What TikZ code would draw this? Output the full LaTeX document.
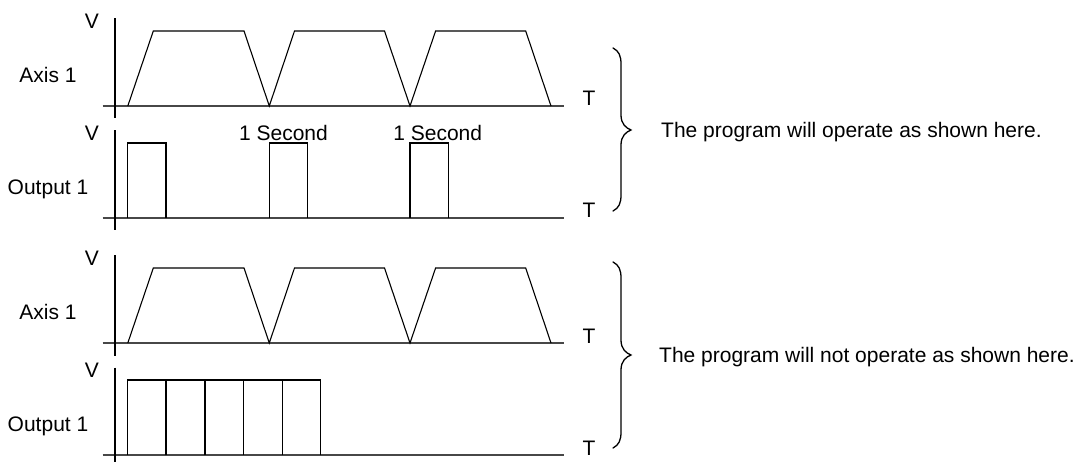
\documentclass[tikz,border=0pt]{standalone}
\usepackage{fontspec}
\setmainfont{Liberation Sans}
\begin{document}
\begin{tikzpicture}[x=1pt,y=-1pt,
  wave/.style={black, line width=1.1pt, line join=miter},
  haxis/.style={black!72, line width=1.6pt},
  vaxis/.style={black, line width=1.2pt},
  lbl/.style={inner sep=0pt, font=\fontsize{21}{25}\selectfont, anchor=base},
  note/.style={inner sep=0pt, font=\fontsize{21}{25}\selectfont, anchor=base west},
  bracepath/.style={black, line width=1.3pt, line cap=round}]
\useasboundingbox (0,0) rectangle (1084,462);

% ---------- axes and labels for the four panels ----------
\foreach \t/\a/\n/\name in {31/106/1/Axis 1, 143/218/2/Output 1, 268/343/3/Axis 1, 380/455/4/Output 1}{
  \draw[haxis] (102.7,\a) -- (564.4,\a);
  \draw[vaxis] (115,{\t-12.5}) -- (115,{\a+12.5});
  \node[lbl] (V\n) at (92,{\t-2.5}) {V};
  \node[lbl] (T\n) at (589,\a) {T};
  \node[lbl] (L\n) at (48,{\t+51.5}) {\name};
}

% ---------- axis waveforms (trapezoids) ----------
\foreach \t/\a in {31/106, 268/343}{
  \draw[wave] (127.8,\a) -- (153.3,\t) -- (244,\t) -- (269.3,\a) -- (294.5,\t) -- (384.5,\t)
    -- (410,\a) -- (435.6,\t) -- (525.7,\t) -- (551,\a);
}

% ---------- output 1, correct program ----------
\foreach \xa/\xb in {127.6/166, 269.3/307.5, 410/448.4}{
  \draw[wave] (\xa,218) -- (\xa,143) -- (\xb,143) -- (\xb,218);
}
\node[lbl] (S1) at (283.5,140.5) {1 Second};
\node[lbl] (S2) at (437.7,140.5) {1 Second};

% ---------- output 1, wrong program ----------
\draw[wave] (127.6,455) -- (127.6,380) -- (320.7,380) -- (320.7,455);
\foreach \x in {166, 205, 243.5, 282.2}{
  \draw[wave] (\x,455) -- (\x,380);
}

% ---------- braces ----------
\foreach \ytop/\ymid/\ybot/\k in {48/130/211/a, 262/355/448/b}{
  \coordinate (brtop\k) at (613,\ytop);
  \coordinate (brtip\k) at (631,\ymid);
  \coordinate (brbot\k) at (613,\ybot);
  \draw[bracepath] (brtop\k) .. controls (619,{\ytop+3}) and (621,{\ytop+8}) .. (621,{\ytop+16})
    -- (621,{\ymid-15}) .. controls (621,{\ymid-6}) and (626,{\ymid-2}) .. (brtip\k)
    .. controls (626,{\ymid+2}) and (621,{\ymid+6}) .. (621,{\ymid+15})
    -- (621,{\ybot-16}) .. controls (621,{\ybot-8}) and (619,{\ybot-3}) .. (brbot\k);
}
\node[note] (N1) at (661,{130+7.5}) {The program will operate as shown here.};
\node[note] (N2) at (659,{355+7.5}) {The program will not operate as shown here.};
\end{tikzpicture}
\end{document}
